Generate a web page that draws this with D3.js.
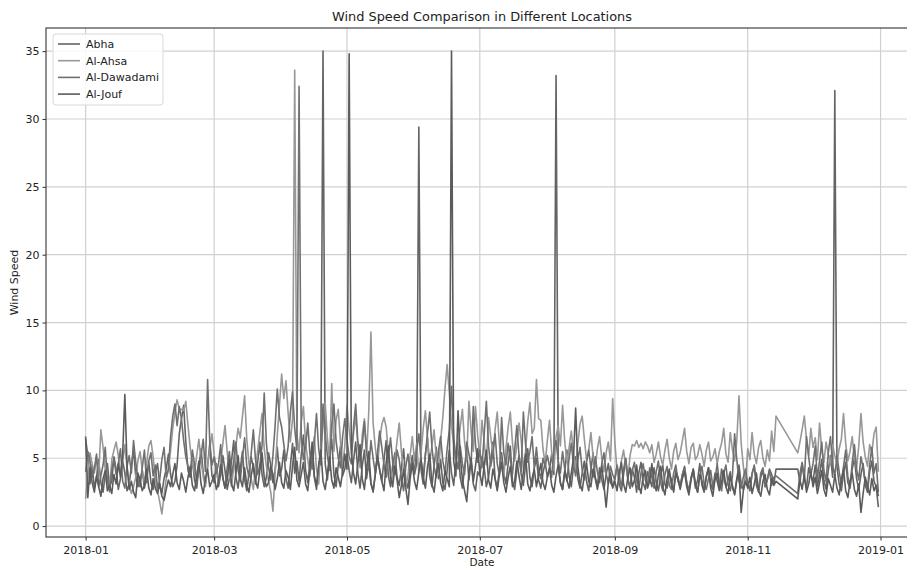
<!DOCTYPE html>
<html>
<head>
<meta charset="utf-8">
<script src="https://cdn.jsdelivr.net/npm/d3@7"></script>
<style>
  body { margin: 0; background: #fff; }
  text { font-family: "DejaVu Sans", sans-serif; }
</style>
</head>
<body>
<div id="chart"></div>
<script>
var width = 907,
    height = 567,
    plot = {left: 46, right: 918, top: 28, bottom: 537};

var seriesNames = ["Abha", "Al-Ahsa", "Al-Dawadami", "Al-Jouf"];
var seriesColors = ["#646464", "#989898", "#707070", "#5b5b5b"];
var xTickLabels = ["2018-01", "2018-03", "2018-05", "2018-07", "2018-09", "2018-11", "2019-01"];
var yTickLabels = [0, 5, 10, 15, 20, 25, 30, 35];

// daily values, one inner list per month of 2018 (null = no reading)
var N = null;
var abha = [
  [6.4,5.2,3.1,4.5,2.8,3.6,4.9,3.2,2.5,3.8,4.6,2.9,3.3,5.1,4.2,2.7,3.5,4.8,3.9,2.6,3.1,4.4,5.6,3.7,2.9,3.4,4.1,2.8,3.6,4.7,3.2],
  [2.7,3.9,4.6,3.1,2.4,3.5,4.2,5.3,3.8,2.9,3.3,4.5,6.8,7.9,8.9,6.2,4.1,3.6,4.9,3.4,2.8,4.3,5.7,3.9,3.1,4.4,6.1,3.7],
  [3.2,4.6,2.9,3.8,5.2,4.1,2.7,3.5,4.8,6.3,3.6,2.8,4.2,5.5,3.4,2.6,3.9,5.1,4.3,3.1,4.7,6.2,3.8,2.9,3.6,5.4,4.5,3.2,4.1,5.8,3.7],
  [4.2,5.6,3.5,2.8,4.4,6.1,3.9,4.8,3.3,5.2,6.7,4.1,3.2,4.9,5.8,3.6,2.7,4.3,5.5,35.0,4.6,3.4,5.1,6.4,3.8,2.9,4.5,5.9,3.7,4.2],
  [5.3,4.1,3.2,4.8,6.2,3.9,2.8,4.4,5.6,3.5,4.7,3.1,2.6,3.8,5.1,4.2,3.3,4.9,6.3,3.7,2.9,4.5,5.4,3.6,3.0,4.3,5.7,3.4,2.8,4.1,5.2],
  [3.8,4.6,29.4,4.2,3.1,5.3,6.5,3.7,2.9,4.4,5.8,3.5,4.9,3.2,2.7,4.1,5.6,3.9,3.0,4.7,6.1,3.6,2.8,4.3,5.5,3.4,4.8,3.1,2.6,4.0],
  [3.7,5.1,4.3,2.9,3.6,4.8,6.2,3.5,2.8,4.2,5.4,3.9,3.1,4.6,5.9,3.3,2.7,4.1,5.2,3.8,3.0,4.5,5.7,3.6,2.9,4.3,5.0,3.4,2.8,3.9,4.7],
  [3.6,4.2,5.3,3.8,33.2,4.5,3.2,2.7,4.0,5.6,3.7,2.9,4.4,5.1,3.5,2.8,3.9,4.8,3.3,2.6,4.1,5.4,3.6,3.0,4.3,3.4,2.7,3.8,4.6,3.2,2.9],
  [3.5,4.4,3.1,2.6,3.8,4.9,3.4,2.8,4.2,3.6,2.5,3.9,4.7,3.2,2.7,4.0,3.5,2.9,4.3,3.3,2.6,3.7,4.5,3.1,2.8,3.9,3.4,2.5,4.1,3.6],
  [2.9,3.8,4.4,3.2,2.6,3.5,4.1,2.8,3.4,4.6,3.0,2.5,3.7,4.3,3.1,2.7,3.9,3.3,2.6,4.2,3.6,2.9,3.4,4.0,2.8,2.4,3.5,4.5,3.1,2.7,3.8],
  [3.2,2.6,3.9,4.4,3.0,2.5,3.6,4.1,2.9,3.4,4.2,3.8,3.1,4.2,N,N,N,N,N,N,N,N,N,4.2,3.2,4.6,3.5,2.8,4.3,3.7],
  [3.3,4.5,2.9,3.8,4.9,3.4,2.7,4.1,5.2,3.6,32.1,4.4,3.1,2.6,3.9,4.7,3.2,2.8,4.2,5.0,3.5,2.7,3.8,4.6,3.0,2.5,4.0,4.8,3.3,2.9,1.4]
];
var alAhsa = [
  [2.0,3.8,5.4,4.6,3.9,5.1,3.7,7.1,5.8,4.2,3.3,2.5,4.9,5.6,6.2,5.2,3.9,4.7,6.0,4.3,3.1,2.4,2.9,3.6,4.8,5.5,4.1,3.2,4.6,5.9,6.3],
  [5.1,3.4,2.6,1.8,0.9,2.2,3.5,4.1,5.6,7.2,8.4,9.3,8.6,8.6,8.5,9.2,7.4,5.8,4.6,3.9,5.2,6.4,4.8,3.6,2.9,4.4,5.7,6.8],
  [5.3,4.1,3.2,4.7,6.1,7.4,5.5,3.8,2.9,4.3,5.9,7.2,6.5,8.1,9.6,6.4,4.6,3.5,2.7,4.2,5.6,6.9,8.3,5.7,4.4,3.3,2.5,1.1,3.8,6.7,8.9],
  [11.2,9.4,10.7,8.3,6.2,7.9,33.6,6.8,5.4,7.7,8.8,6.1,4.9,3.7,5.3,6.6,4.2,3.1,5.8,7.3,9.1,6.5,4.8,10.5,5.5,7.8,8.6,6.3,4.4,5.9],
  [8.9,7.1,5.6,6.8,8.2,5.9,4.3,6.7,7.9,5.2,8.4,14.3,7.6,5.8,4.5,6.2,7.5,8.0,7.3,5.4,4.1,3.3,4.8,6.3,7.6,5.5,4.0,2.9,3.7,5.2,6.6],
  [4.8,6.1,3.9,5.3,7.2,8.5,6.4,4.7,5.9,7.1,5.0,3.8,6.3,8.0,10.1,11.9,9.8,7.4,6.0,4.6,5.8,7.3,8.6,6.2,4.9,9.2,7.0,5.5,8.8,6.7],
  [5.1,7.8,6.2,4.5,8.0,6.6,5.3,7.1,8.4,6.0,4.4,3.6,5.7,7.3,8.4,6.1,4.8,5.9,7.6,6.3,4.2,5.5,7.7,9.1,6.8,7.2,10.8,7.9,7.8,5.7,4.6],
  [6.3,7.8,5.4,4.1,6.6,7.4,5.9,8.9,6.2,4.7,5.8,7.0,5.3,4.2,6.1,7.5,8.1,6.4,4.9,5.6,6.9,5.1,4.3,5.7,6.6,5.0,4.0,5.4,6.2,4.8,9.4],
  [6.2,4.1,3.3,4.8,5.6,4.4,3.6,5.2,6.0,5.9,6.3,5.8,6.1,5.7,6.2,5.9,5.4,6.0,4.7,5.3,6.2,5.1,4.5,5.6,6.4,5.0,4.2,5.5,6.1,4.9],
  [5.4,6.3,7.2,5.5,4.6,5.8,6.1,4.9,5.2,6.0,5.3,4.4,5.6,6.2,4.8,5.1,5.7,4.6,5.5,6.1,7.2,5.3,4.7,6.9,5.6,4.8,6.3,9.6,6.1,4.4,3.1],
  [5.7,4.9,6.9,5.3,4.6,5.8,6.3,5.0,4.4,5.6,4.8,7.0,5.5,8.1,N,N,N,N,N,N,N,N,N,5.4,6.2,7.1,8.1,6.4,5.2,7.2],
  [5.8,6.5,4.9,7.6,5.6,4.7,6.2,5.3,4.5,6.0,5.2,4.6,5.7,6.4,8.3,6.1,4.8,5.5,6.6,5.0,4.3,5.9,8.3,6.2,5.1,4.4,6.0,5.4,6.8,7.3,4.0]
];
var alDawadami = [
  [4.0,5.5,4.8,3.6,4.2,5.3,2.9,3.7,4.5,5.8,3.4,2.6,4.1,5.0,3.8,4.6,5.7,3.3,2.8,4.4,5.2,3.9,6.3,4.7,3.5,2.9,4.3,5.6,3.2,4.8,5.4],
  [3.7,4.5,2.8,3.4,4.9,5.8,3.6,4.2,6.6,8.1,9.0,7.4,8.8,7.9,6.3,5.1,4.4,3.8,5.6,4.6,3.3,4.1,5.2,6.4,4.0,10.8,6.2,4.5],
  [5.1,3.9,4.6,6.0,3.5,2.8,4.3,5.5,3.7,4.8,6.2,4.1,3.3,5.0,6.5,4.4,3.6,5.3,7.1,4.9,3.8,4.5,5.9,9.8,6.1,4.3,3.4,5.2,7.4,10.1,8.0],
  [7.3,6.0,4.8,5.9,8.4,9.9,7.2,5.6,32.4,6.5,4.9,5.8,7.6,5.3,4.2,6.1,8.3,5.7,4.5,9.0,6.8,5.2,4.1,7.4,9.0,6.3,5.0,4.3,6.6,7.9],
  [6.4,5.1,4.6,7.3,9.0,6.2,4.8,5.9,7.7,5.5,4.2,6.3,5.0,3.9,5.4,7.0,5.8,4.5,3.6,5.1,6.5,4.7,3.8,5.6,4.9,3.5,2.6,4.4,5.3,3.9,4.8],
  [4.1,5.6,6.8,4.9,3.7,5.2,6.9,8.4,5.8,4.4,3.6,5.5,6.6,4.8,3.9,5.7,7.1,10.3,6.5,5.1,4.2,5.9,4.6,3.8,6.2,5.3,4.5,8.8,6.0,4.7],
  [5.6,4.3,6.7,9.2,5.9,4.4,5.3,6.8,4.6,3.7,8.0,5.4,4.5,6.1,4.9,3.8,5.6,7.4,5.2,4.0,8.4,6.0,4.7,5.5,6.6,4.3,5.8,4.1,3.5,5.0,4.4],
  [5.2,4.4,3.6,5.7,6.3,4.8,3.9,5.5,4.2,3.3,5.0,6.1,4.5,3.7,4.9,5.8,4.1,3.4,4.7,5.6,4.3,3.6,5.1,4.0,3.2,4.6,5.4,3.9,3.1,4.4,3.8],
  [3.4,4.5,3.7,2.9,4.2,5.0,3.5,2.8,4.1,4.7,3.3,2.7,3.9,4.6,3.4,2.9,4.3,3.6,2.8,4.0,4.8,3.2,2.6,3.8,4.4,3.0,2.7,3.9,4.5,3.3],
  [2.9,3.8,4.3,3.2,2.6,3.6,4.2,3.0,2.5,3.7,4.4,3.1,2.7,3.5,4.1,2.9,3.4,4.6,3.2,2.6,3.9,4.5,3.0,2.6,3.7,6.8,4.9,3.3,2.8,3.6,4.2],
  [3.1,2.7,3.8,4.5,3.3,2.6,3.9,4.3,2.9,3.4,4.1,3.0,3.6,3.7,N,N,N,N,N,N,N,N,N,2.4,3.9,4.7,3.4,6.6,5.1,3.8],
  [4.6,5.9,3.5,4.8,6.2,4.1,3.3,5.4,6.6,4.5,3.7,5.2,4.0,3.1,4.4,5.6,3.6,2.9,4.7,6.0,4.2,3.4,5.1,4.3,3.2,2.7,4.5,5.8,3.9,4.6,2.5]
];
var alJouf = [
  [6.6,2.1,4.3,3.2,2.5,3.7,2.9,2.2,3.5,4.1,2.6,3.0,2.4,3.8,3.1,4.6,3.6,5.2,9.7,4.5,2.7,3.3,2.5,2.1,3.9,3.4,2.6,3.0,4.2,2.8,2.3],
  [3.5,2.8,2.4,3.1,2.2,1.9,2.7,3.4,2.9,3.8,4.6,3.2,2.7,3.9,3.3,2.5,3.6,4.4,3.0,2.6,3.7,4.8,3.1,2.4,3.5,4.2,2.9,3.3],
  [3.8,2.7,3.2,4.5,3.6,2.8,3.4,4.9,3.1,2.6,3.9,5.2,3.5,2.9,4.3,3.0,2.5,3.7,4.6,3.3,2.8,4.1,5.4,3.6,2.9,3.2,4.4,3.8,2.7,3.5,4.7],
  [3.2,2.8,4.1,3.6,2.7,4.4,5.8,3.4,2.9,3.8,4.7,3.1,2.6,4.2,6.2,3.7,3.0,4.5,5.6,3.3,2.7,3.9,5.1,3.4,2.8,4.3,3.6,2.9,4.0,5.3],
  [4.2,34.8,5.4,3.9,3.1,4.6,6.0,3.5,2.7,4.3,5.5,3.2,2.5,3.8,5.2,4.1,3.3,2.6,4.7,5.9,3.6,2.9,4.4,3.4,2.1,3.0,4.2,2.8,1.6,3.5,4.6],
  [3.3,2.7,4.0,4.9,3.6,2.8,4.4,5.3,3.1,2.5,3.9,4.6,3.2,2.6,4.1,3.5,2.9,35.0,4.8,3.7,8.5,5.2,3.4,2.6,1.8,3.9,5.0,3.3,4.4,5.7],
  [3.9,3.0,4.5,5.6,3.4,2.8,4.2,3.5,2.6,3.8,4.7,3.2,2.5,3.6,4.4,2.9,3.3,4.8,3.7,2.7,4.0,5.3,3.1,2.6,3.5,4.2,2.9,3.8,4.6,3.2,2.7],
  [3.6,4.3,3.0,2.5,3.7,4.5,3.2,2.7,4.1,3.4,2.8,3.9,5.0,8.7,4.4,3.1,2.6,3.8,4.6,3.3,2.9,4.2,3.5,2.7,3.6,4.4,3.0,1.4,3.2,3.9,2.8],
  [3.3,2.6,3.9,4.7,3.1,2.5,3.6,4.3,2.9,3.4,4.5,3.0,2.4,3.7,4.1,2.8,3.3,4.6,3.2,2.6,3.8,4.4,2.9,2.3,3.5,4.2,3.0,2.6,3.9,3.4],
  [2.7,3.5,4.0,2.9,2.3,3.4,4.2,3.1,2.5,3.8,3.3,2.6,3.6,4.3,2.8,2.2,3.5,3.9,2.7,3.2,4.1,2.9,2.4,3.7,3.0,2.3,3.4,4.0,1.0,2.6,3.3],
  [2.8,3.6,2.4,3.1,3.9,2.6,2.2,3.3,3.8,2.7,2.3,3.5,3.0,3.3,N,N,N,N,N,N,N,N,N,2.0,3.4,2.7,3.8,2.5,3.1,4.0],
  [2.9,3.6,2.4,3.2,4.1,2.7,2.2,3.5,3.0,2.5,3.8,2.8,2.3,3.4,4.2,2.6,2.1,3.3,3.9,2.7,2.2,3.1,1.0,2.4,3.6,2.9,2.3,3.5,2.6,3.0,2.2]
];

// turn month lists into dated points, skipping missing days
function toPoints(months) {
  var pts = [];
  months.forEach(function(vals, m) {
    vals.forEach(function(v, i) {
      if (v !== null) pts.push({date: new Date(2018, m, i + 1), value: v});
    });
  });
  return pts;
}

var series = [abha, alAhsa, alDawadami, alJouf].map(function(s, i) {
  return {name: seriesNames[i], color: seriesColors[i], points: toPoints(s)};
});

var allPts = d3.merge(series.map(function(s) { return s.points; }));
var tExt = d3.extent(allPts, function(d) { return d.date; }),
    vExt = d3.extent(allPts, function(d) { return d.value; });
var tPad = (tExt[1] - tExt[0]) * 0.05,
    vPad = (vExt[1] - vExt[0]) * 0.05;

var x = d3.scaleTime()
  .domain([new Date(+tExt[0] - tPad), new Date(+tExt[1] + tPad)])
  .range([plot.left, plot.right]);

var y = d3.scaleLinear()
  .domain([vExt[0] - vPad, vExt[1] + vPad])
  .range([plot.bottom, plot.top]);

var svg = d3.select("#chart").append("svg")
  .attr("width", width)
  .attr("height", height)
  .style("display", "block");

var parseMonth = d3.timeParse("%Y-%m");
var xTicks = xTickLabels.map(parseMonth);

// grid
svg.append("g").selectAll("line")
  .data(xTicks)
  .enter().append("line")
  .attr("x1", function(d) { return x(d); })
  .attr("x2", function(d) { return x(d); })
  .attr("y1", plot.top)
  .attr("y2", plot.bottom)
  .style("stroke", "#d0d0d0")
  .style("stroke-width", 1.2);

svg.append("g").selectAll("line")
  .data(yTickLabels)
  .enter().append("line")
  .attr("x1", plot.left)
  .attr("x2", plot.right)
  .attr("y1", function(d) { return y(d); })
  .attr("y2", function(d) { return y(d); })
  .style("stroke", "#d0d0d0")
  .style("stroke-width", 1.2);

// lines
var line = d3.line()
  .x(function(d) { return x(d.date); })
  .y(function(d) { return y(d.value); });

svg.append("g").selectAll("path")
  .data(series)
  .enter().append("path")
  .attr("d", function(d) { return line(d.points); })
  .style("fill", "none")
  .style("stroke", function(d) { return d.color; })
  .style("stroke-width", 1.6)
  .style("stroke-linejoin", "round");

// axes
var xAxis = d3.axisBottom(x)
  .tickValues(xTicks)
  .tickFormat(function(d, i) { return xTickLabels[i]; })
  .tickSize(3.5)
  .tickSizeOuter(0);

var yAxis = d3.axisLeft(y)
  .tickValues(yTickLabels)
  .tickSize(3.5)
  .tickSizeOuter(0);

var gx = svg.append("g")
  .attr("transform", "translate(0," + plot.bottom + ")")
  .call(xAxis);
var gy = svg.append("g")
  .attr("transform", "translate(" + plot.left + ",0)")
  .call(yAxis);

[gx, gy].forEach(function(g) {
  g.select(".domain").remove();
  g.selectAll(".tick line").style("stroke", "#333");
  g.selectAll(".tick text")
    .style("font-family", "DejaVu Sans")
    .style("font-size", "11px")
    .style("fill", "#222");
});
gx.selectAll(".tick text").attr("dy", "0.95em");

// spines
svg.append("rect")
  .attr("x", plot.left)
  .attr("y", plot.top)
  .attr("width", plot.right - plot.left)
  .attr("height", plot.bottom - plot.top)
  .style("fill", "none")
  .style("stroke", "#333")
  .style("stroke-width", 1.1);

// title and labels
svg.append("text")
  .attr("x", (plot.left + plot.right) / 2)
  .attr("y", 21)
  .attr("text-anchor", "middle")
  .style("font-size", "12.9px")
  .style("fill", "#222")
  .text("Wind Speed Comparison in Different Locations");

svg.append("text")
  .attr("x", (plot.left + plot.right) / 2)
  .attr("y", 566)
  .attr("text-anchor", "middle")
  .style("font-size", "10.5px")
  .style("fill", "#222")
  .text("Date");

svg.append("text")
  .attr("transform", "translate(18," + ((plot.top + plot.bottom) / 2) + ") rotate(-90)")
  .attr("text-anchor", "middle")
  .style("font-size", "11px")
  .style("fill", "#222")
  .text("Wind Speed");

// legend
var legend = svg.append("g").attr("transform", "translate(53,34)");
legend.append("rect")
  .attr("width", 110)
  .attr("height", 71)
  .attr("rx", 3)
  .style("fill", "#fff")
  .style("fill-opacity", 0.85)
  .style("stroke", "#d8d8d8");

var item = legend.selectAll("g.item")
  .data(series)
  .enter().append("g")
  .attr("class", "item")
  .attr("transform", function(d, i) { return "translate(0," + (10 + i * 16.7) + ")"; });

item.append("line")
  .attr("x1", 5).attr("x2", 27)
  .style("stroke", function(d) { return d.color; })
  .style("stroke-width", 1.6);

item.append("text")
  .attr("x", 33)
  .attr("dy", "0.35em")
  .style("font-size", "11px")
  .style("fill", "#222")
  .text(function(d) { return d.name; });
</script>
</body>
</html>
